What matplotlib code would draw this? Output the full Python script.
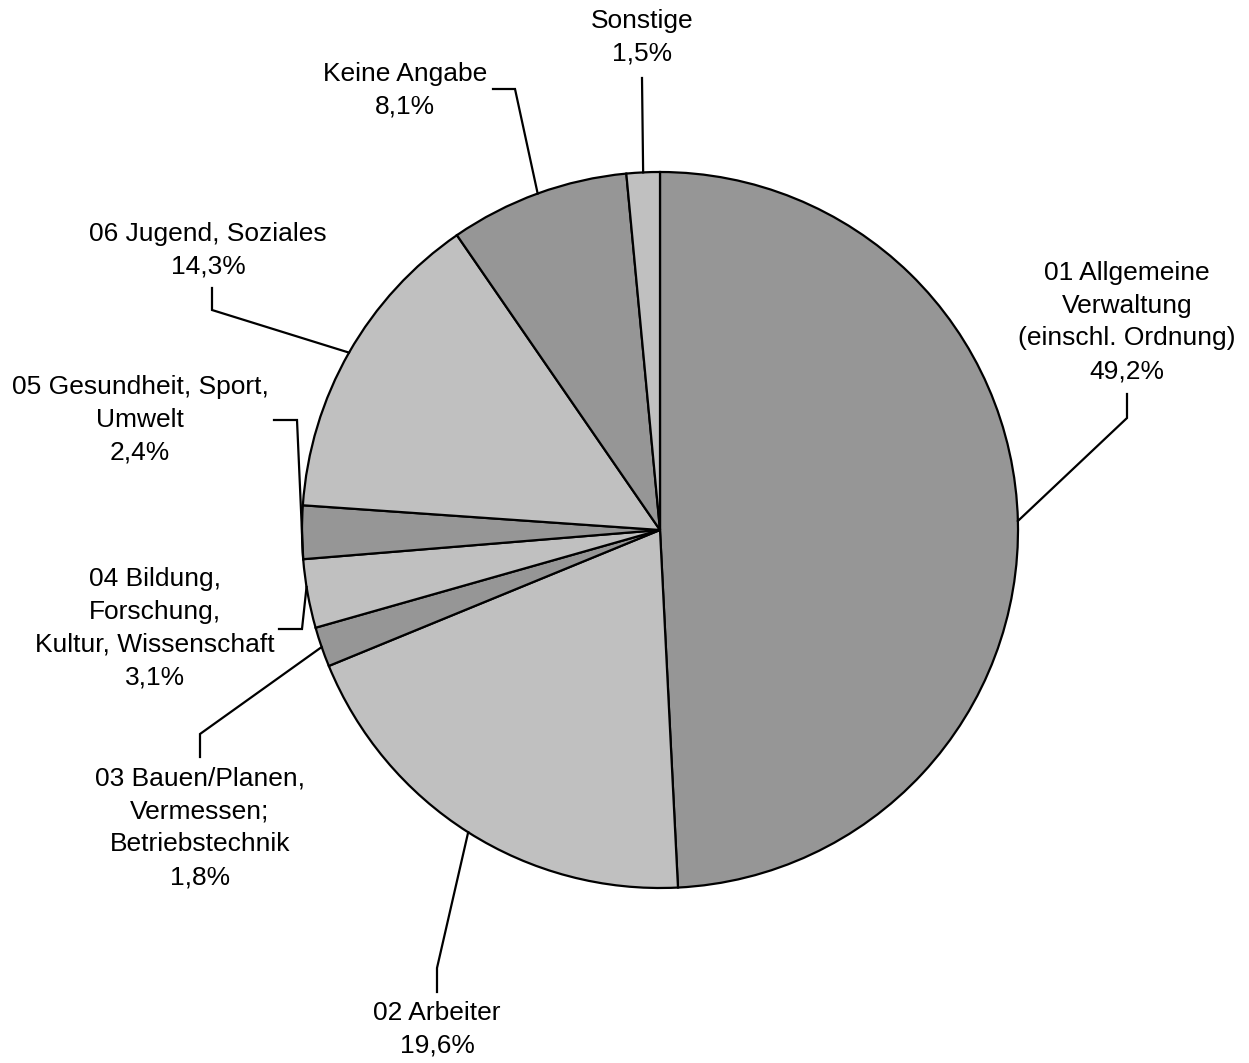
import numpy as np
import matplotlib
matplotlib.use("Agg")
import matplotlib.pyplot as plt

plt.rcParams['font.family'] = ['Liberation Sans', 'DejaVu Sans']

# Daten
labels = ["01 Allgemeine\nVerwaltung\n(einschl. Ordnung)",
          "02 Arbeiter",
          "03 Bauen/Planen,\nVermessen;\nBetriebstechnik",
          "04 Bildung,\nForschung,\nKultur, Wissenschaft",
          "05 Gesundheit, Sport,\nUmwelt",
          "06 Jugend, Soziales",
          "Keine Angabe",
          "Sonstige"]
values = [49.2, 19.6, 1.8, 3.1, 2.4, 14.3, 8.1, 1.5]
colors = ["#969696", "#c0c0c0"] * 4

# Layout (Pixel im Bild): Textmitte, Knickpunkt, Ende der Linie am Text
W, H = 1249, 1063
CX, CY, R = 660, 530, 358
text_pos = [(1127, 322), (437, 1029), (200, 828), (155, 628),
            (140, 420), (208, 250), (405, 90), (642, 37)]
elbow = [(1127, 418), (437, 968), (200, 734), (302, 629),
         (297, 420), (212, 310), (515, 89), (642, 78)]
line_end = [(1127, 394), (437, 992), (200, 757), (279, 629),
            (274, 420), (212, 288), (493, 89), (642, 78)]
leader_frac = [0.5, 0.5, 0.5, 0.6, 0.0, 0.5, 0.5, 0.5]


def px(p):
    return ((p[0] - CX) / R, (CY - p[1]) / R)


fig = plt.figure(figsize=(W / 100, H / 100), dpi=100)
ax = fig.add_axes([0, 0, 1, 1])

wedges, _ = ax.pie(values, colors=colors, startangle=90, counterclock=False,
                   radius=1, center=(0, 0), frame=True,
                   wedgeprops=dict(edgecolor='black', linewidth=1.6))
ax.set_xlim(-CX / R, (W - CX) / R)
ax.set_ylim((CY - H) / R, CY / R)
ax.set_aspect('equal')
ax.axis('off')

total = sum(values)
for i, (lab, v) in enumerate(zip(labels, values)):
    w = wedges[i]
    a = np.deg2rad(w.theta1 + (w.theta2 - w.theta1) * (1 - leader_frac[i]))
    rim = (np.cos(a), np.sin(a))
    e = px(elbow[i])
    le = px(line_end[i])
    ax.plot([rim[0], e[0], le[0]], [rim[1], e[1], le[1]], color='black',
            lw=1.6, solid_joinstyle='miter')
    pct = ("%.1f%%" % (100 * v / total)).replace('.', ',')
    tx, ty = px(text_pos[i])
    ax.text(tx, ty, lab + "\n" + pct, ha='center', va='center',
            multialignment='center', fontsize=19, linespacing=1.47)

fig.savefig("out.png", dpi=100)
